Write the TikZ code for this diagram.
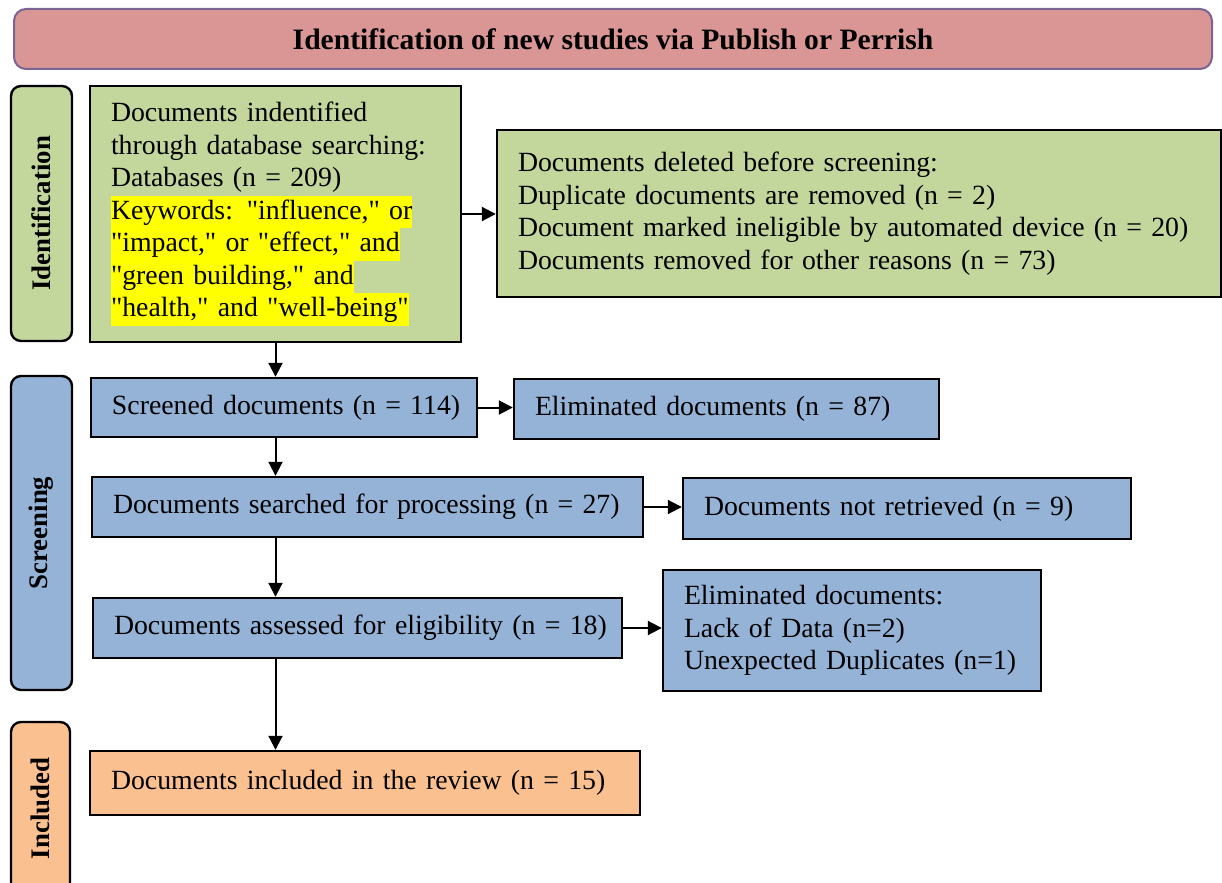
\documentclass[tikz,border=0pt]{standalone}
\usepackage{fontspec}
\setmainfont{Liberation Serif}[Ligatures=TeXOff]
\usetikzlibrary{arrows.meta}
\definecolor{gfill}{HTML}{C3D69B}
\definecolor{bfill}{HTML}{95B3D7}
\definecolor{ofill}{HTML}{FAC090}
\definecolor{pfill}{HTML}{D99694}
\definecolor{pborder}{HTML}{7A6494}
\definecolor{hlyellow}{HTML}{FFFF00}
\newcommand{\hlline}[1]{{\setlength{\fboxsep}{0pt}\colorbox{hlyellow}{\rule[-4.6pt]{0pt}{16.25pt}#1}}}
\begin{document}
\begin{tikzpicture}[x=0.5pt,y=-0.5pt,
  boxstyle/.style={draw=black, line width=1.2pt, rectangle, inner xsep=10.5pt, inner ysep=0pt,
    align=left, font=\fontsize{13.9}{16.25}\selectfont},
  sidestyle/.style={draw=black, line width=1.2pt, rounded corners=5pt, rotate=90,
    font=\bfseries\fontsize{13.4}{16}\selectfont, inner sep=0pt},
  arr/.style={line width=1pt, -{Triangle[length=7pt,width=7pt]}}]
\useasboundingbox (0,0) rectangle (1222,883);
% title
\node[draw=pborder, line width=1pt, fill=pfill, rounded corners=6pt, minimum width=599pt, minimum height=30pt,
  font=\bfseries\fontsize{14.8}{16}\selectfont] (title) at (613,39) {Identification of new studies via Publish or Perrish};
% side labels
\node[sidestyle, fill=gfill, minimum width=127.5pt, minimum height=30.5pt] (sideid) at (41.5,213.5) {Identification};
\node[sidestyle, fill=bfill, minimum width=157pt, minimum height=30.5pt] (sidescr) at (41.5,533) {Screening};
\node[sidestyle, fill=ofill, minimum width=86.5pt, minimum height=29.5pt] (sideinc) at (40.5,808.5) {Included};
% boxes
\node[boxstyle, fill=gfill, minimum width=185.5pt, minimum height=128pt, text width=164.5pt] (ident) at (275.5,214)
  {Documents indentified\\through database searching:\\Databases (n = 209)\\\hlline{Keywords: "influence," or}\\\hlline{"impact," or "effect," and}\\\hlline{"green building," and}\\\hlline{"health," and "well-being"}};
\node[boxstyle, fill=gfill, minimum width=362pt, minimum height=83.5pt, text width=341pt] (deleted) at (859,213.5)
  {Documents deleted before screening:\\Duplicate documents are removed (n = 2)\\\mbox{Document marked ineligible by automated device (n = 20)}\\Documents removed for other reasons (n = 73)};
\node[boxstyle, fill=bfill, minimum width=193pt, minimum height=29.5pt, text width=172pt] (screened) at (284,407.5)
  {\mbox{Screened documents (n = 114)}};
\node[boxstyle, fill=bfill, minimum width=212.5pt, minimum height=30pt, text width=191.5pt] (elimA) at (726.5,409)
  {\mbox{Eliminated documents (n = 87)}};
\node[boxstyle, fill=bfill, minimum width=275.5pt, minimum height=30pt, text width=254.5pt] (searched) at (367.5,507)
  {\mbox{Documents searched for processing (n = 27)}};
\node[boxstyle, fill=bfill, minimum width=224pt, minimum height=30.5pt, text width=203pt] (notret) at (907,508.5)
  {\mbox{Documents not retrieved (n = 9)}};
\node[boxstyle, fill=bfill, minimum width=264.5pt, minimum height=30pt, text width=243.5pt] (assessed) at (357.5,628)
  {\mbox{Documents assessed for eligibility (n = 18)}};
\node[boxstyle, fill=bfill, minimum width=189pt, minimum height=60.5pt, text width=168pt] (elimB) at (852,630.5)
  {Eliminated documents:\\Lack of Data (n=2)\\\mbox{Unexpected Duplicates (n=1)}};
\node[boxstyle, fill=ofill, minimum width=275pt, minimum height=32pt, text width=254pt] (incl) at (365,783)
  {\mbox{Documents included in the review (n = 15)}};
% connectors
\draw[arr] (ident.east) -- (ident.east -| deleted.west);
\draw[arr] (ident.south) -- (ident.south |- screened.north);
\draw[arr] (screened.east) -- (screened.east -| elimA.west);
\draw[arr] (ident.south |- screened.south) -- (ident.south |- searched.north);
\draw[arr] (searched.east) -- (searched.east -| notret.west);
\draw[arr] (ident.south |- searched.south) -- (ident.south |- assessed.north);
\draw[arr] (assessed.east) -- (assessed.east -| elimB.west);
\draw[arr] (ident.south |- assessed.south) -- (ident.south |- incl.north);
\end{tikzpicture}
\end{document}
